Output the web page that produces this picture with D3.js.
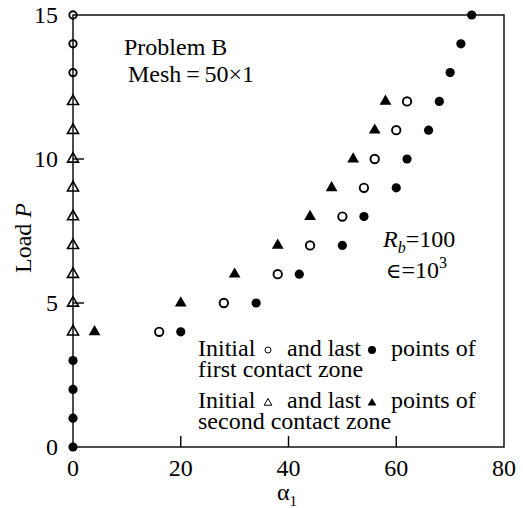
<!DOCTYPE html>
<html>
<head>
<meta charset="utf-8">
<script src="https://cdn.jsdelivr.net/npm/d3@7"></script>
<style>
  body { margin: 0; background: #fff; }
  text { font-family: "Liberation Serif", "Times New Roman", serif; fill: #000; }
</style>
</head>
<body>
<div id="graph"></div>
<script>
// data (alpha_1 , load P)
var firstInitialAlpha = [0, 0, 0, 16, 28, 38, 44, 50, 54, 56, 60, 62];
var firstInitialLoad  = [13, 14, 15, 4, 5, 6, 7, 8, 9, 10, 11, 12];

var firstLastAlpha = [0, 0, 0, 0, 20, 34, 42, 50, 54, 60, 62, 66, 68, 70, 72, 74];
var firstLastLoad  = [0, 1, 2, 3, 4, 5, 6, 7, 8, 9, 10, 11, 12, 13, 14, 15];

var secondInitialAlpha = [0, 0, 0, 0, 0, 0, 0, 0, 0];
var secondInitialLoad  = [4, 5, 6, 7, 8, 9, 10, 11, 12];

var secondLastAlpha = [4, 20, 30, 38, 44, 48, 52, 56, 58];
var secondLastLoad  = [4, 5, 6, 7, 8, 9, 10, 11, 12];

var xTicks = [0, 20, 40, 60, 80];
var yTicks = [0, 5, 10, 15];

function pairs(a, p) { return a.map(function(v, i) { return {a: v, p: p[i]}; }); }

var width = 523, height = 508;
var fs = 24;

var svg = d3.select("#graph").append("svg")
  .attr("width", width).attr("height", height);

var x = d3.scaleLinear().domain([0, 80]).range([73, 504]);
var y = d3.scaleLinear().domain([0, 15]).range([447, 15]);

// frame
svg.append("rect")
  .attr("x", x(0)).attr("y", y(15))
  .attr("width", x(80) - x(0)).attr("height", y(0) - y(15))
  .attr("fill", "none").attr("stroke", "#000").attr("stroke-width", 1.4);

// inward ticks, interior only
svg.selectAll(".xt").data(xTicks.slice(1, -1)).enter().append("line")
  .attr("x1", function(d) { return x(d); }).attr("x2", function(d) { return x(d); })
  .attr("y1", y(0)).attr("y2", y(0) - 11)
  .attr("stroke", "#000").attr("stroke-width", 1.4);
svg.selectAll(".yt").data(yTicks.slice(1, -1)).enter().append("line")
  .attr("y1", function(d) { return y(d); }).attr("y2", function(d) { return y(d); })
  .attr("x1", x(0)).attr("x2", x(0) + 11)
  .attr("stroke", "#000").attr("stroke-width", 1.4);

// tick labels
svg.selectAll(".xl").data(xTicks).enter().append("text")
  .attr("x", function(d) { return x(d); }).attr("y", 476)
  .attr("text-anchor", "middle").attr("font-size", fs)
  .text(function(d) { return d; });
svg.selectAll(".yl").data(yTicks).enter().append("text")
  .attr("x", 58).attr("y", function(d) { return y(d) + 8; })
  .attr("text-anchor", "end").attr("font-size", fs)
  .text(function(d) { return d; });

// axis titles
var xt = svg.append("text").attr("x", 277).attr("y", 500).attr("font-size", fs);
xt.append("tspan").text("α");
xt.append("tspan").attr("font-size", 15).attr("dy", 6).text("1");

var yt = svg.append("text")
  .attr("transform", "translate(31,238) rotate(-90)")
  .attr("text-anchor", "middle").attr("font-size", fs);
yt.append("tspan").text("Load ");
yt.append("tspan").attr("font-style", "italic").text("P");

// annotations
svg.append("text").attr("x", 124).attr("y", 55).attr("font-size", fs).text("Problem B");
svg.append("text").attr("x", 128).attr("y", 82).attr("font-size", fs).text("Mesh\u2009=\u200950×1");

var rb = svg.append("text").attr("x", 383).attr("y", 247).attr("font-size", fs);
rb.append("tspan").attr("font-style", "italic").text("R");
rb.append("tspan").attr("font-style", "italic").attr("font-size", 16).attr("dy", 6).text("b");
rb.append("tspan").attr("dy", -6).text("=100");

var ep = svg.append("text").attr("x", 386).attr("y", 278).attr("font-size", fs);
ep.append("tspan").attr("font-size", 21).attr("font-family", "DejaVu Serif").text("∈");
ep.append("tspan").text("=10");
ep.append("tspan").attr("font-size", 16).attr("dy", -10).text("3");

// markers
var triBig = d3.symbol().type(d3.symbolTriangle).size(60);
var triAxis = d3.symbol().type(d3.symbolTriangle).size(52);

svg.selectAll(".fl").data(pairs(firstLastAlpha, firstLastLoad)).enter().append("circle")
  .attr("cx", function(d) { return x(d.a); }).attr("cy", function(d) { return y(d.p); })
  .attr("r", 4.6).attr("fill", "#000");

svg.selectAll(".fi").data(pairs(firstInitialAlpha, firstInitialLoad)).enter().append("circle")
  .attr("cx", function(d) { return x(d.a); }).attr("cy", function(d) { return y(d.p); })
  .attr("r", function(d) { return d.a === 0 ? 3.7 : 4.2; })
  .attr("fill", "none").attr("stroke", "#000").attr("stroke-width", 1.9);

svg.selectAll(".si").data(pairs(secondInitialAlpha, secondInitialLoad)).enter().append("path")
  .attr("d", triAxis)
  .attr("transform", function(d) { return "translate(" + x(d.a) + "," + y(d.p) + ")"; })
  .attr("fill", "none").attr("stroke", "#000").attr("stroke-width", 1.6);

svg.selectAll(".sl").data(pairs(secondLastAlpha, secondLastLoad)).enter().append("path")
  .attr("d", triBig)
  .attr("transform", function(d) { return "translate(" + x(d.a) + "," + y(d.p) + ")"; })
  .attr("fill", "#000");

// legend paragraphs: one text each, symbols drawn in the gaps
function legendBlock(yb, secondLine, open, filled) {
  var t = svg.append("text").attr("font-size", fs);
  t.append("tspan").attr("x", 198).attr("y", yb).text("Initial");
  t.append("tspan").attr("x", 287).attr("y", yb).text("and last");
  t.append("tspan").attr("x", 391).attr("y", yb).text("points of");
  t.append("tspan").attr("x", 198).attr("y", yb + 21).text(secondLine);
  open(268, yb - 6);
  filled(372, yb - 6);
}
legendBlock(356, "first contact zone",
  function(cx, cy) { svg.append("circle").attr("cx", cx).attr("cy", cy).attr("r", 3).attr("fill", "none").attr("stroke", "#000").attr("stroke-width", 1); },
  function(cx, cy) { svg.append("circle").attr("cx", cx).attr("cy", cy).attr("r", 4).attr("fill", "#000"); });

legendBlock(408, "second contact zone",
  function(cx, cy) { svg.append("path").attr("d", d3.symbol().type(d3.symbolTriangle).size(26)).attr("transform", "translate(" + cx + "," + (cy + 1) + ")").attr("fill", "none").attr("stroke", "#000").attr("stroke-width", 1); },
  function(cx, cy) { svg.append("path").attr("d", d3.symbol().type(d3.symbolTriangle).size(34)).attr("transform", "translate(" + cx + "," + (cy + 1) + ")").attr("fill", "#000"); });
</script>
</body>
</html>
